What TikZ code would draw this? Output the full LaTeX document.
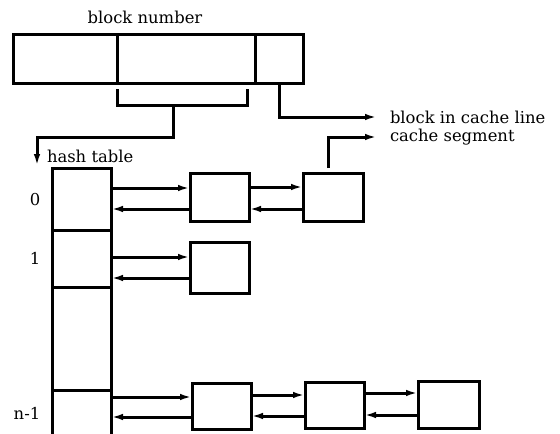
\documentclass[tikz,border=0pt]{standalone}
\usepackage{fontspec}
\setmainfont{DejaVu Serif}
\usetikzlibrary{arrows.meta}
\begin{document}
\begin{tikzpicture}[x=1pt,y=-1pt,
  every node/.style={font=\fontsize{16.4}{19}\selectfont},
  cell/.style={draw,line width=3pt,inner sep=0pt,outer sep=0pt},
  lbl/.style={inner sep=0pt,outer sep=0pt},
  ln/.style={line width=3pt},
  arr/.style={line width=3pt,-{Latex[length=12pt,width=6.5pt]}}]
\useasboundingbox (0,0) rectangle (560,434);
% top bar
\node[cell,minimum width=104pt,minimum height=49pt] (seg1) at (65,58.5) {};
\node[cell,minimum width=138pt,minimum height=49pt] (seg2) at (186,58.5) {};
\node[cell,minimum width=48pt,minimum height=49pt] (seg3) at (279,58.5) {};
\node[lbl,anchor=base] (bn) at (145,23) {block number};
% bracket
\coordinate (brL) at (117,89);
\coordinate (brLb) at (117,105);
\coordinate (brRb) at (247,105);
\coordinate (brR) at (247,89);
\coordinate (brM) at (173,105);
\draw[ln] (brL) -- (brLb) -- (brRb) -- (brR);
% hash table
\node[cell,minimum width=59pt,minimum height=62pt] (h0) at (81.5,199) {};
\node[cell,minimum width=59pt,minimum height=57pt] (h1) at (81.5,258.5) {};
\node[cell,minimum width=59pt,minimum height=103pt] (h2) at (81.5,338.5) {};
\node[cell,minimum width=59pt,minimum height=70pt] (h3) at (81.5,425) {};
\node[lbl,anchor=base west] (ht) at (47,162) {hash table};
\node[lbl] (r0) at (35,200) {0};
\node[lbl] (r1) at (35,258) {1};
\node[lbl] (rn) at (27,413) {n-1};
\draw[arr] (brM) -- ++(0,32) -| ([xshift=-15pt,yshift=2pt]h0.north west);
% cache entries
\node[cell,minimum width=59pt,minimum height=48pt] (b01) at (219.5,197) {};
\node[cell,minimum width=60pt,minimum height=48pt] (b02) at (333,197) {};
\node[cell,minimum width=59pt,minimum height=51pt] (b11) at (219.5,267.5) {};
\node[cell,minimum width=59pt,minimum height=46pt] (c1) at (221.5,406) {};
\node[cell,minimum width=59pt,minimum height=46pt] (c2) at (334.5,405) {};
\node[cell,minimum width=61pt,minimum height=47pt] (c3) at (448.5,404.5) {};
% labels on right
\node[lbl,anchor=west] (l1) at (390,117) {block in cache line};
\node[lbl,anchor=west] (l2) at (390,137) {cache segment};
\draw[arr] (seg3.south) |- ([xshift=-13pt]l1.west);
\draw[arr] ([xshift=-5pt,yshift=5pt]b02.north) |- ([xshift=-13pt]l2.west);
% row 0
\draw[arr] ([yshift=11pt]h0.east) -- ([yshift=9pt]b01.west);
\draw[arr] ([yshift=-12pt]b01.west) -- ([yshift=-10pt]h0.east);
\draw[arr] ([yshift=10pt]b01.east) -- ([yshift=10pt]b02.west);
\draw[arr] ([yshift=-12pt]b02.west) -- ([yshift=-12pt]b01.east);
% row 1
\draw[arr] ([yshift=1.5pt]h1.east) -- ([yshift=10.5pt]b11.west);
\draw[arr] ([yshift=-10.5pt]b11.west) -- ([yshift=-19.5pt]h1.east);
% row n-1
\draw[arr] ([yshift=28pt]h3.east) -- ([yshift=9pt]c1.west);
\draw[arr] ([yshift=-11pt]c1.west) -- ([yshift=8pt]h3.east);
\draw[arr] ([yshift=11pt]c1.east) -- ([yshift=10pt]c2.west);
\draw[arr] ([yshift=-11pt]c2.west) -- ([yshift=-10pt]c1.east);
\draw[arr] ([yshift=12pt]c2.east) -- ([yshift=11.5pt]c3.west);
\draw[arr] ([yshift=-10.5pt]c3.west) -- ([yshift=-10pt]c2.east);
\end{tikzpicture}
\end{document}
